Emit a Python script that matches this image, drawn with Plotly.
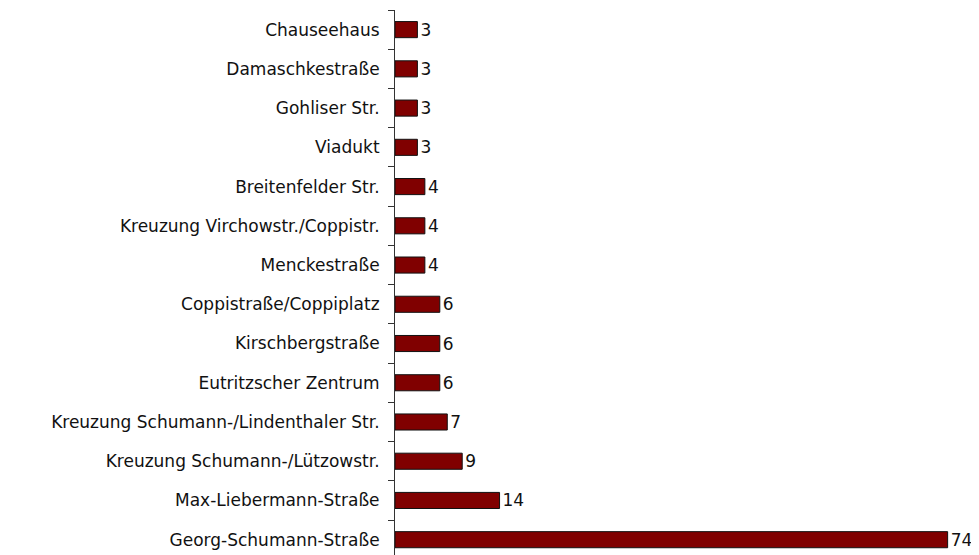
import plotly.graph_objects as go

categories = [
    "Chauseehaus",
    "Damaschkestraße",
    "Gohliser Str.",
    "Viadukt",
    "Breitenfelder Str.",
    "Kreuzung Virchowstr./Coppistr.",
    "Menckestraße",
    "Coppistraße/Coppiplatz",
    "Kirschbergstraße",
    "Eutritzscher Zentrum",
    "Kreuzung Schumann-/Lindenthaler Str.",
    "Kreuzung Schumann-/Lützowstr.",
    "Max-Liebermann-Straße",
    "Georg-Schumann-Straße",
]
values = [3, 3, 3, 3, 4, 4, 4, 6, 6, 6, 7, 9, 14, 74]

fig = go.Figure(
    go.Bar(
        y=categories,
        x=values,
        orientation="h",
        width=0.41,
        marker=dict(color="#800000", line=dict(color="#111111", width=1)),
        text=[str(v) for v in values],
        textposition="outside",
        constraintext="none",
        textfont=dict(family="DejaVu Sans", size=17, color="#111111"),
        cliponaxis=False,
    )
)

# page body has an 8px default margin, so the figure is sized to fit the window
fig.update_layout(
    width=971,
    height=547,
    margin=dict(l=387, r=0, t=2, b=0, autoexpand=False),
    plot_bgcolor="white",
    paper_bgcolor="white",
    showlegend=False,
)
fig.update_xaxes(visible=False, range=[0, 78.2], automargin=False)
fig.update_yaxes(
    type="category",
    range=[13.39, -0.5],
    automargin=False,
    showline=True,
    linecolor="#333333",
    linewidth=1,
    ticks="outside",
    ticklen=6,
    tickcolor="#333333",
    tickson="boundaries",
    showgrid=False,
    ticklabelstandoff=11,
    tickfont=dict(family="DejaVu Sans", size=17, color="#111111"),
)

fig.write_html("out.html")
